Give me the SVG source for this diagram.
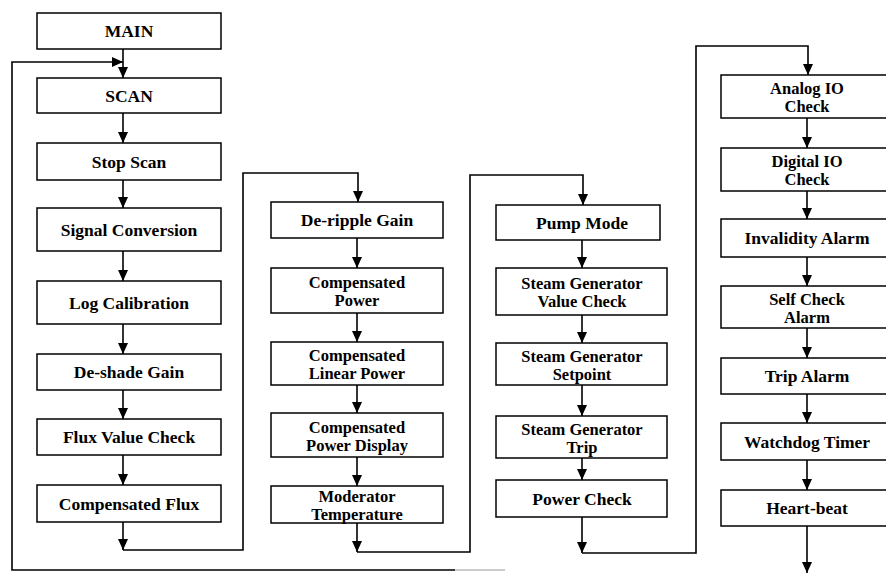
<svg xmlns="http://www.w3.org/2000/svg" width="886" height="574" viewBox="0 0 886 574">
  <style>
    .box { fill: #fff; stroke: #000; stroke-width: 1.5; }
    .lbl { font-family: "Liberation Serif", "DejaVu Serif", serif; font-weight: bold; font-size: 17.5px; fill: #000; text-anchor: middle; }
    .lbl2 { font-size: 16.5px; }
    .wire { fill: none; stroke: #000; stroke-width: 1.6; }
  </style>
  <defs>
    <marker id="arrow" viewBox="0 0 11 10" refX="11" refY="5" markerWidth="11" markerHeight="10" markerUnits="userSpaceOnUse" orient="auto">
      <path d="M0,0 L11,5 L0,10 z" fill="#000"/>
    </marker>
  </defs>

  <rect width="886" height="574" fill="#fff"/>

  <!-- connectors -->
  <g id="connectors">
    <!-- column 1 -->
    <path class="wire" d="M123,49 V78" marker-end="url(#arrow)"/>
    <path class="wire" d="M123,113 V143" marker-end="url(#arrow)"/>
    <path class="wire" d="M123,180 V208" marker-end="url(#arrow)"/>
    <path class="wire" d="M123,251 V281" marker-end="url(#arrow)"/>
    <path class="wire" d="M123,324 V354" marker-end="url(#arrow)"/>
    <path class="wire" d="M123,390 V419" marker-end="url(#arrow)"/>
    <path class="wire" d="M123,455 V485" marker-end="url(#arrow)"/>
    <path class="wire" d="M123,522 V550" marker-end="url(#arrow)"/>
    <path class="wire" d="M123,550 H243 V173 H358 V202" marker-end="url(#arrow)"/>
    <!-- column 2 -->
    <path class="wire" d="M357,238 V268" marker-end="url(#arrow)"/>
    <path class="wire" d="M357,313 V342" marker-end="url(#arrow)"/>
    <path class="wire" d="M357,385 V413" marker-end="url(#arrow)"/>
    <path class="wire" d="M357,457 V486" marker-end="url(#arrow)"/>
    <path class="wire" d="M357,523 V552" marker-end="url(#arrow)"/>
    <path class="wire" d="M357,552 H470 V175 H583 V205" marker-end="url(#arrow)"/>
    <!-- column 3 -->
    <path class="wire" d="M582,240 V268" marker-end="url(#arrow)"/>
    <path class="wire" d="M582,315 V343" marker-end="url(#arrow)"/>
    <path class="wire" d="M582,385 V416" marker-end="url(#arrow)"/>
    <path class="wire" d="M582,458 V480" marker-end="url(#arrow)"/>
    <path class="wire" d="M582,517 V553" marker-end="url(#arrow)"/>
    <path class="wire" d="M582,553 H696 V46 H808 V75" marker-end="url(#arrow)"/>
    <!-- column 4 -->
    <path class="wire" d="M807,118 V148" marker-end="url(#arrow)"/>
    <path class="wire" d="M807,191 V219" marker-end="url(#arrow)"/>
    <path class="wire" d="M807,257 V286" marker-end="url(#arrow)"/>
    <path class="wire" d="M807,328 V358" marker-end="url(#arrow)"/>
    <path class="wire" d="M807,394 V423" marker-end="url(#arrow)"/>
    <path class="wire" d="M807,460 V490" marker-end="url(#arrow)"/>
    <path class="wire" d="M807,526 V573" marker-end="url(#arrow)"/>
    <!-- return loop back to SCAN -->
    <path class="wire" d="M455,570 H12 V62 H123" marker-end="url(#arrow)"/>
    <path d="M455,570 H505" fill="none" stroke="#bbb" stroke-width="1.6"/>
  </g>

  <!-- column 1 -->
  <g id="main"><rect class="box" x="37" y="13" width="184" height="36"/><text class="lbl" x="129" y="37">MAIN</text></g>
  <g id="scan"><rect class="box" x="37" y="78" width="184" height="35"/><text class="lbl" x="129" y="101.5">SCAN</text></g>
  <g id="stop-scan"><rect class="box" x="37" y="143" width="184" height="37"/><text class="lbl" x="129" y="167.5">Stop Scan</text></g>
  <g id="signal-conversion"><rect class="box" x="37" y="208" width="184" height="43"/><text class="lbl" x="129" y="235.5">Signal Conversion</text></g>
  <g id="log-calibration"><rect class="box" x="37" y="281" width="184" height="43"/><text class="lbl" x="129" y="308.5">Log Calibration</text></g>
  <g id="de-shade-gain"><rect class="box" x="37" y="354" width="184" height="36"/><text class="lbl" x="129" y="378">De-shade Gain</text></g>
  <g id="flux-value-check"><rect class="box" x="37" y="419" width="184" height="36"/><text class="lbl" x="129" y="443">Flux Value Check</text></g>
  <g id="compensated-flux"><rect class="box" x="37" y="485" width="184" height="37"/><text class="lbl" x="129" y="509.5">Compensated Flux</text></g>

  <!-- column 2 -->
  <g id="de-ripple-gain"><rect class="box" x="271" y="202" width="172" height="36"/><text class="lbl" x="357" y="226">De-ripple Gain</text></g>
  <g id="compensated-power"><rect class="box" x="271" y="268" width="172" height="45"/><text class="lbl lbl2" x="357" y="288">Compensated</text><text class="lbl lbl2" x="357" y="306.3">Power</text></g>
  <g id="compensated-linear-power"><rect class="box" x="271" y="342" width="172" height="43"/><text class="lbl lbl2" x="357" y="361">Compensated</text><text class="lbl lbl2" x="357" y="379.3">Linear Power</text></g>
  <g id="compensated-power-display"><rect class="box" x="271" y="413" width="172" height="44"/><text class="lbl lbl2" x="357" y="432.5">Compensated</text><text class="lbl lbl2" x="357" y="450.8">Power Display</text></g>
  <g id="moderator-temperature"><rect class="box" x="271" y="486" width="172" height="37"/><text class="lbl lbl2" x="357" y="502">Moderator</text><text class="lbl lbl2" x="357" y="520.3">Temperature</text></g>

  <!-- column 3 -->
  <g id="pump-mode"><rect class="box" x="496" y="205" width="164" height="35"/><text class="lbl" x="582" y="228.5">Pump Mode</text></g>
  <g id="sg-value-check"><rect class="box" x="496" y="268" width="171" height="47"/><text class="lbl lbl2" x="582" y="289">Steam Generator</text><text class="lbl lbl2" x="582" y="307.3">Value Check</text></g>
  <g id="sg-setpoint"><rect class="box" x="496" y="343" width="171" height="42"/><text class="lbl lbl2" x="582" y="361.5">Steam Generator</text><text class="lbl lbl2" x="582" y="379.8">Setpoint</text></g>
  <g id="sg-trip"><rect class="box" x="496" y="416" width="171" height="42"/><text class="lbl lbl2" x="582" y="434.5">Steam Generator</text><text class="lbl lbl2" x="582" y="452.8">Trip</text></g>
  <g id="power-check"><rect class="box" x="496" y="480" width="171" height="37"/><text class="lbl" x="582" y="504.5">Power Check</text></g>

  <!-- column 4 -->
  <g id="analog-io-check"><rect class="box" x="721" y="75" width="172" height="43"/><text class="lbl lbl2" x="807" y="94">Analog IO</text><text class="lbl lbl2" x="807" y="112.3">Check</text></g>
  <g id="digital-io-check"><rect class="box" x="721" y="148" width="172" height="43"/><text class="lbl lbl2" x="807" y="167">Digital IO</text><text class="lbl lbl2" x="807" y="185.3">Check</text></g>
  <g id="invalidity-alarm"><rect class="box" x="721" y="219" width="172" height="38"/><text class="lbl" x="807" y="244">Invalidity Alarm</text></g>
  <g id="self-check-alarm"><rect class="box" x="721" y="286" width="172" height="42"/><text class="lbl lbl2" x="807" y="304.5">Self Check</text><text class="lbl lbl2" x="807" y="322.8">Alarm</text></g>
  <g id="trip-alarm"><rect class="box" x="721" y="358" width="172" height="36"/><text class="lbl" x="807" y="382">Trip Alarm</text></g>
  <g id="watchdog-timer"><rect class="box" x="721" y="423" width="172" height="37"/><text class="lbl" x="807" y="447.5">Watchdog Timer</text></g>
  <g id="heart-beat"><rect class="box" x="721" y="490" width="172" height="36"/><text class="lbl" x="807" y="514">Heart-beat</text></g>
</svg>
